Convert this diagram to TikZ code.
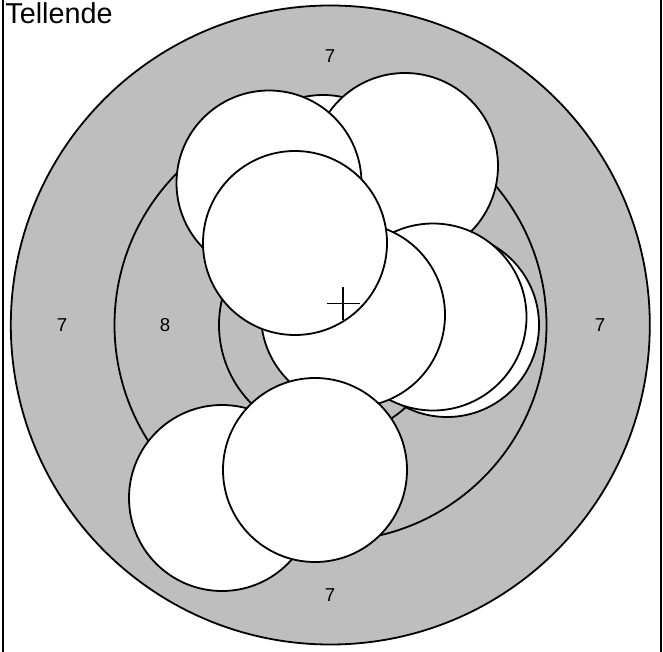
\documentclass[tikz,border=0pt]{standalone}
\usepackage{fontspec}
\setmainfont{Liberation Sans}
\definecolor{ringgray}{RGB}{190,190,190}
\tikzset{
  hole/.style={draw,fill=white},
  ringnum/.style={font=\fontsize{14}{16}\selectfont,inner sep=0pt}
}

\begin{document}
\begin{tikzpicture}[x=0.75pt,y=-0.75pt,line width=1.35pt]
  \clip (0,0) rectangle (663,652);
  \draw[line width=1.6pt] (2.7,-10) rectangle (661,662);
  % skive
  \filldraw[fill=ringgray] (330.3,325) circle (319.5);
  \draw (330.5,325) circle (216);
  \draw (330.5,325) circle (111.5);
  % ringtall
  \node[ringnum] (sju-topp) at (330,56) {7};
  \node[ringnum] (sju-bunn) at (330,595) {7};
  \node[ringnum] (sju-venstre) at (62,325) {7};
  \node[ringnum] (sju-hoyre) at (600,325) {7};
  \node[ringnum] (atte-venstre) at (165,325) {8};
  % treff
  \draw[hole] (323,187) circle (92);
  \draw[hole] (405,166) circle (93);
  \draw[hole] (269,183) circle (92.5);
  \draw[hole] (447,325) circle (92);
  \draw[hole] (433,317) circle (93.5);
  \draw[hole] (353,315) circle (92);
  \draw[hole] (295,243) circle (92);
  \draw[hole] (222,498) circle (93);
  \draw[hole] (315,470) circle (92);
  % middeltreffpunkt
  \draw (326.8,303.5) -- (359.8,303.5) (343.3,287) -- (343.3,320);
  \node[anchor=base west,inner sep=0pt,font=\fontsize{21.6}{24}\selectfont] (tittel) at (4.5,23.3) {Tellende};
\end{tikzpicture}
\end{document}
